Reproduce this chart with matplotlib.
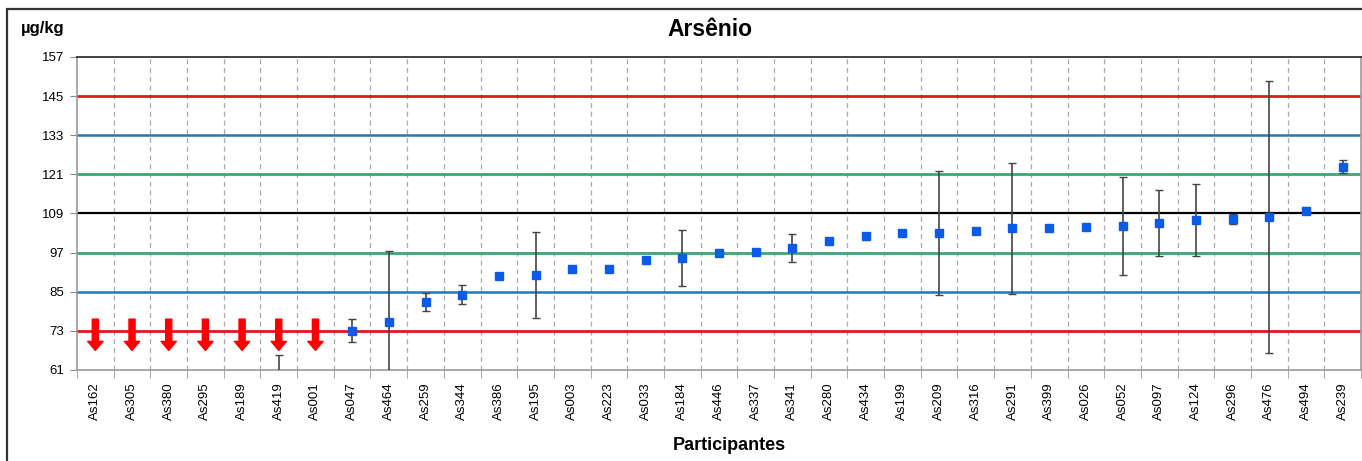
import numpy as np
import matplotlib
matplotlib.use("Agg")
import matplotlib.pyplot as plt
from matplotlib.patches import Rectangle

plt.rcParams['font.family'] = ['Liberation Sans', 'DejaVu Sans']

# Participant codes, ordered by reported result
participants = ['As162', 'As305', 'As380', 'As295', 'As189', 'As419', 'As001',
                'As047', 'As464', 'As259', 'As344', 'As386', 'As195', 'As003',
                'As223', 'As033', 'As184', 'As446', 'As337', 'As341', 'As280',
                'As434', 'As199', 'As209', 'As316', 'As291', 'As399', 'As026',
                'As052', 'As097', 'As124', 'As296', 'As476', 'As494', 'As239']

# Reported results (µg/kg); NaN = below the lowest scale value
results = [np.nan, np.nan, np.nan, np.nan, np.nan, 55.0, np.nan,
           73.1, 75.8, 81.8, 84.1, 89.9, 90.1, 92.1,
           92.0, 94.8, 95.3, 96.8, 97.3, 98.4, 100.6,
           102.0, 103.0, 103.0, 103.7, 104.4, 104.4, 104.9,
           105.2, 106.1, 107.0, 107.4, 108.0, 109.9, 123.4]

# Expanded uncertainties (µg/kg); 0 = not reported
uncertainty = [0, 0, 0, 0, 0, 10.6, 0,
               3.6, 21.8, 2.8, 3.0, 0, 13.2, 0,
               0.5, 0, 8.6, 0, 0, 4.2, 0,
               0, 0, 19.0, 0, 20.1, 0, 1.0,
               15.0, 10.0, 11.0, 1.5, 41.7, 0, 2.0]

# Assigned value and acceptance limits
assigned_value = 109
limits_1 = [97, 121]
limits_2 = [85, 133]
limits_3 = [73, 145]

y_ticks = [61, 73, 85, 97, 109, 121, 133, 145, 157]

fig = plt.figure(figsize=(13.62, 4.61), dpi=100)
ax = fig.add_axes([77 / 1362, 1 - 370 / 461, 1284 / 1362, 313 / 461])

n = len(participants)
x = np.arange(n)
res = np.array(results, dtype=float)
unc = np.array(uncertainty, dtype=float)

# Reference lines
for v in limits_3:
    ax.axhline(v, color='#e3161d', lw=2.0, zorder=2)
for v in limits_2:
    ax.axhline(v, color='#2577b5', lw=1.8, zorder=2)
for v in limits_1:
    ax.axhline(v, color='#3aa874', lw=2.0, zorder=2)
ax.axhline(assigned_value, color='black', lw=1.6, zorder=2)

# Error bars and results
has_unc = unc > 0
ax.errorbar(x[has_unc], res[has_unc], yerr=unc[has_unc], fmt='none',
            ecolor='#444444', elinewidth=1.2, capsize=3.2, capthick=1.0,
            zorder=3)
ax.plot(x, res, 's', color='#0a5be8', ms=6.2, mec='#0a5be8', zorder=4)

# Results below the scale are flagged with a down arrow
ymin, ymax = y_ticks[0], y_ticks[-1]
for xi, r in zip(x, res):
    if not (r >= ymin):
        ax.annotate('', xy=(xi, 67.0), xytext=(xi, 76.6),
                    arrowprops=dict(width=4.4, headwidth=11, headlength=6.5,
                                    color='#ff0000', shrink=0),
                    zorder=5)

ax.set_xlim(-0.5, n - 0.5)
ax.set_ylim(ymin, ymax)
ax.set_yticks(y_ticks)
ax.set_yticklabels([str(t) for t in y_ticks], fontsize=9.5)

# Category labels between dashed separators
ax.set_xticks(x)
ax.set_xticklabels(participants, rotation=90, fontsize=9.5)
ax.tick_params(axis='x', length=0, pad=9)
ax.tick_params(axis='y', length=5, color='#888888', pad=4)
ax.set_xticks(np.arange(n + 1) - 0.5, minor=True)
ax.tick_params(axis='x', which='minor', length=6, color='#999999')
ax.grid(False)
for b in np.arange(1, n) - 0.5:
    ax.axvline(b, color='#aaaaaa', lw=0.9, ls=(0, (4, 3)), zorder=1)

for side in ['left', 'bottom', 'right']:
    ax.spines[side].set_color('#999999')
    ax.spines[side].set_linewidth(1.2)
ax.spines['top'].set_color('#222222')
ax.spines['top'].set_linewidth(1.2)

fig.text(710 / 1362, 1 - 30 / 461, 'Arsênio', ha='center', va='center',
         fontsize=16.5, fontweight='bold')
fig.text(21 / 1362, 1 - 28 / 461, 'µg/kg', ha='left', va='center',
         fontsize=12, fontweight='bold')
fig.text(729 / 1362, 1 - 445 / 461, 'Participantes', ha='center', va='center',
         fontsize=13, fontweight='bold')

# Outer frame of the chart
fig.patches.append(Rectangle((7 / 1362, -0.05), 1.2, 0.05 + 1 - 9 / 461,
                             transform=fig.transFigure, fill=False,
                             edgecolor='#333333', lw=1.6))

fig.savefig('out.png', dpi=100)
